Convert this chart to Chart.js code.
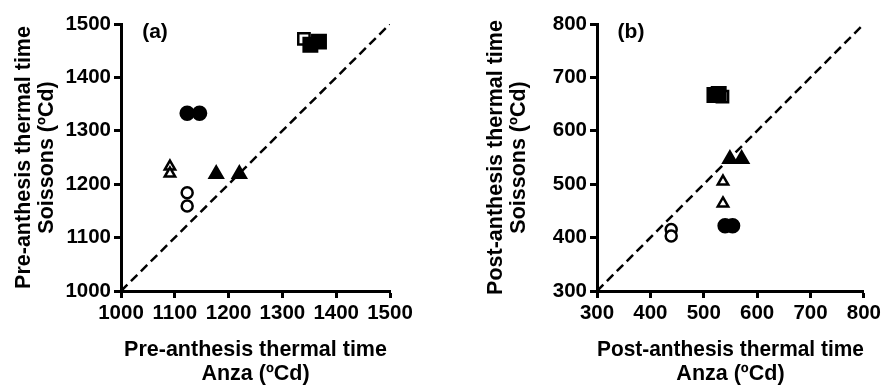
<!DOCTYPE html>
<html>
<head>
<meta charset="utf-8">
<script src="https://cdn.jsdelivr.net/npm/chart.js@4.4.1/dist/chart.umd.min.js"></script>
<style>
  body { margin: 0; background: #fff; }
  #wrap { position: relative; width: 884px; height: 386px; }
  canvas { position: absolute; top: 0; }
</style>
</head>
<body>
<div id="wrap">
  <canvas id="chartA" width="442" height="386" style="left:0"></canvas>
  <canvas id="chartB" width="442" height="386" style="left:442px"></canvas>
</div>
<script>
// series: open square, filled square, filled circle, open circle, open triangle, filled triangle
var seriesNames = ['openSquare', 'filledSquare', 'filledCircle', 'openCircle', 'openTriangle', 'filledTriangle'];

// (a) pre-anthesis thermal time
var preAnza     = [[1340], [1352, 1368], [1123, 1146], [1123, 1123], [1091, 1091], [1177, 1220]];
var preSoissons = [[1472], [1461, 1467], [1333, 1333], [1184, 1159], [1233, 1220], [1219, 1219]];
var preTicks = [1000, 1100, 1200, 1300, 1400, 1500];

// (b) post-anthesis thermal time
var postAnza     = [[535], [520, 528], [540, 554], [439, 439], [536, 536], [549, 571]];
var postSoissons = [[664], [667, 669], [422, 422], [415, 403], [505, 464], [547, 547]];
var postTicks = [300, 400, 500, 600, 700, 800];

var styles = {
    openSquare:     { pointStyle: 'rect', radius: 8, fill: '#fff', order: 3 },
    filledSquare:   { pointStyle: 'rect', radius: 9.5, fill: '#000', order: 1 },
    filledCircle:   { pointStyle: 'circle', radius: 6.5, fill: '#000', order: 1 },
    openCircle:     { pointStyle: 'circle', radius: 5.5, fill: '#fff', order: 2 },
    openTriangle:   { pointStyle: 'triangle', radius: 6, fill: '#fff', order: 2 },
    filledTriangle: { pointStyle: 'triangle', radius: 7.5, fill: '#000', order: 1 }
};

var FONT = "'Liberation Sans', Arial, sans-serif";

var panelLabel = {
    id: 'panelLabel',
    afterDraw: function (chart, args, opts) {
        var c = chart.ctx, a = chart.chartArea;
        c.save();
        c.font = 'bold 21px ' + FONT;
        c.fillStyle = '#000';
        c.textAlign = 'center';
        c.textBaseline = 'middle';
        c.fillText(opts.text, a.left + 34, a.top + 8);
        c.restore();
    }
};

function makeChart(id, xs, ys, ticks, label, xTitle, yTitle, yAxisWidth, yTitlePad, padRight) {
    var datasets = seriesNames.map(function (name, i) {
        var s = styles[name];
        return {
            label: name,
            data: xs[i].map(function (x, j) { return { x: x, y: ys[i][j] }; }),
            pointStyle: s.pointStyle,
            pointRadius: s.radius,
            pointBackgroundColor: s.fill,
            pointBorderColor: '#000',
            pointBorderWidth: 2.5,
            showLine: false,
            order: s.order
        };
    });
    var lo = ticks[0], hi = ticks[ticks.length - 1];
    datasets.push({
        type: 'line',
        label: '1:1',
        data: [{ x: lo, y: lo }, { x: hi, y: hi }],
        borderColor: '#000',
        borderWidth: 2.5,
        borderDash: [9, 5],
        pointRadius: 0,
        fill: false,
        order: 10
    });

    var axisCommon = {
        type: 'linear',
        min: lo,
        max: hi,
        grid: { display: true, drawOnChartArea: false, drawTicks: true, tickLength: 7, tickWidth: 3, color: '#000' },
        border: { display: true, color: '#000', width: 3 },
        ticks: {
            stepSize: 100,
            color: '#000',
            font: { family: FONT, size: 20.5, weight: 'bold' },
            callback: function (v) { return String(v); }
        }
    };

    return new Chart(document.getElementById(id), {
        type: 'scatter',
        data: { datasets: datasets },
        options: {
            responsive: false,
            animation: false,
            devicePixelRatio: 1,
            layout: { padding: { top: 24, right: padRight, bottom: 0, left: 0 } },
            plugins: {
                legend: { display: false },
                tooltip: { enabled: false },
                panelLabel: { text: label }
            },
            scales: {
                x: Object.assign({}, axisCommon, {
                    position: 'bottom',
                    ticks: Object.assign({}, axisCommon.ticks, { padding: 3, maxRotation: 0 }),
                    title: {
                        display: true,
                        text: xTitle,
                        color: '#000',
                        font: { family: FONT, size: 21.5, weight: 'bold', lineHeight: 1.12 },
                        padding: { top: 4, bottom: 0 }
                    },
                    afterFit: function (scale) { scale.height = 95; }
                }),
                y: Object.assign({}, axisCommon, {
                    position: 'left',
                    ticks: Object.assign({}, axisCommon.ticks, { padding: 3 }),
                    title: {
                        display: true,
                        text: yTitle,
                        color: '#000',
                        font: { family: FONT, size: 21.5, weight: 'bold', lineHeight: 1.07 },
                        padding: { top: yTitlePad, bottom: 0 }
                    },
                    afterFit: function (scale) { scale.width = yAxisWidth; }
                })
            }
        },
        plugins: [panelLabel]
    });
}

makeChart('chartA', preAnza, preSoissons, preTicks, '(a)',
    ['Pre-anthesis thermal time', 'Anza (\u00baCd)'],
    ['Pre-anthesis thermal time', 'Soissons (\u00baCd)'],
    121, 12.5, 52);

makeChart('chartB', postAnza, postSoissons, postTicks, '(b)',
    ['Post-anthesis thermal time', 'Anza (\u00baCd)'],
    ['Post-anthesis thermal time', 'Soissons (\u00baCd)'],
    155, 42.5, 17);
</script>
</body>
</html>
